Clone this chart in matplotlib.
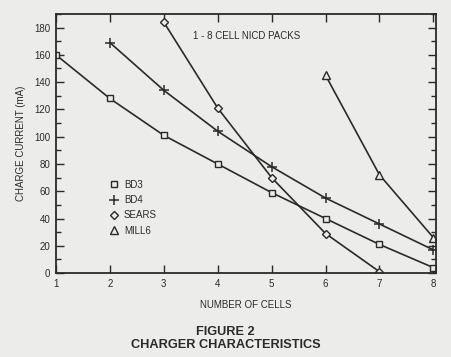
import matplotlib
matplotlib.use("Agg")
import matplotlib.pyplot as plt
from matplotlib.ticker import MultipleLocator

cells = [1, 2, 3, 4, 5, 6, 7, 8]
bd3_x = [1, 2, 3, 4, 5, 6, 7, 8]
bd3_y = [160, 128, 101, 80, 59, 40, 21, 4]
bd4_x = [2, 3, 4, 5, 6, 7, 8]
bd4_y = [169, 134, 104, 78, 55, 36, 17]
sears_x = [3, 4, 5, 6, 7]
sears_y = [184, 121, 70, 29, 1]
mill6_x = [6, 7, 8]
mill6_y = [145, 72, 26]
yticks = [0, 20, 40, 60, 80, 100, 120, 140, 160, 180]

plt.rcParams['font.family'] = ['Liberation Sans', 'DejaVu Sans']
bg = '#ececea'
ink = '#2a2a2a'

fig = plt.figure(figsize=(4.51, 3.57), dpi=100, facecolor=bg)
ax = fig.add_axes([0.124, 0.235, 0.843, 0.726], facecolor=bg)

lw = 1.2
ms = 5
ax.plot(bd3_x, bd3_y, color=ink, lw=lw, marker='s', ms=ms, mfc=bg, mec=ink, mew=1.0, label='BD3')
ax.plot(bd4_x, bd4_y, color=ink, lw=lw, marker='+', ms=7, mec=ink, mew=1.1, label='BD4')
ax.plot(sears_x, sears_y, color=ink, lw=lw, marker='D', ms=4.5, mfc=bg, mec=ink, mew=1.0, label='SEARS')
ax.plot(mill6_x, mill6_y, color=ink, lw=lw, marker='^', ms=6, mfc=bg, mec=ink, mew=1.0, label='MILL6')

ax.set_xlim(1, 8.05)
ax.set_ylim(0, 190)
ax.set_xticks(cells)
ax.set_yticks(yticks)
ax.yaxis.set_minor_locator(MultipleLocator(10))
ax.tick_params(axis='both', which='major', direction='in', length=6, width=1.0,
               colors=ink, labelsize=7, top=True, right=True, pad=4)
ax.tick_params(axis='y', which='minor', direction='in', length=3.5, width=1.0,
               colors=ink, right=True)
for s in ax.spines.values():
    s.set_color(ink)
    s.set_linewidth(1.3)

ax.set_xlabel('NUMBER OF CELLS', fontsize=7, color=ink, labelpad=8)
ax.set_ylabel('CHARGE CURRENT (mA)', fontsize=7, color=ink, labelpad=6)

ax.text(0.36, 0.915, '1 - 8 CELL NICD PACKS', transform=ax.transAxes, fontsize=7,
        color=ink, va='center')

leg = ax.legend(loc='upper left', bbox_to_anchor=(0.13, 0.375), frameon=False,
                fontsize=7, handlelength=1.0, handletextpad=0.5, labelspacing=0.55,
                borderaxespad=0)
for h in leg.legend_handles:
    h.set_linestyle('none')
for t in leg.get_texts():
    t.set_color(ink)

fig.text(0.5, 0.071, 'FIGURE 2', ha='center', va='center', fontsize=9.2,
         fontweight='bold', color=ink)
fig.text(0.5, 0.034, 'CHARGER CHARACTERISTICS', ha='center', va='center', fontsize=9.2,
         fontweight='bold', color=ink)

fig.savefig('out.png', dpi=100, facecolor=bg)
